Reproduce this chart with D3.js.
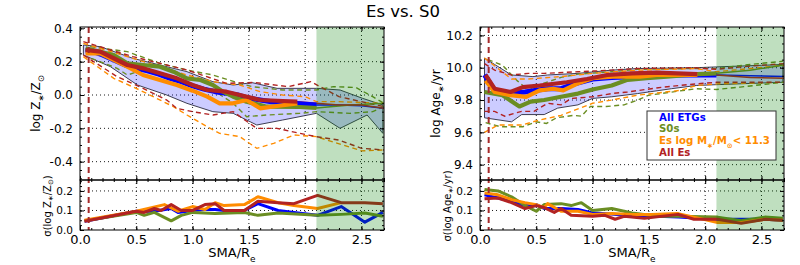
<!DOCTYPE html>
<html><head><meta charset="utf-8">
<script src="https://cdn.jsdelivr.net/npm/d3@7"></script>
<style>body{margin:0;background:#fff} svg{display:block;font-family:"DejaVu Sans",sans-serif}</style>
</head><body><svg id="c" width="800" height="265"></svg>
<script>
// ---------------- DATA ----------------
const xTickLabels = [0.0, 0.5, 1.0, 1.5, 2.0, 2.5];
const zTickLabels = [-0.4, -0.2, 0.0, 0.2, 0.4];
const ageTickLabels = [9.4, 9.6, 9.8, 10.0, 10.2];
const sigmaTickLabels = [0.0, 0.1, 0.2];
const legendLabels = ["All ETGs", "S0s", "Es log M", "All Es"];
const outerRegion = [2.1, 2.7];
const innerLimit = 0.077;

// Left: log Z*/Zsun
const zBlueX = [0.05,0.1,0.2,0.3,0.4,0.5,0.6,0.7,0.8,0.9,1.0,1.1,1.2,1.3,1.4,1.5,1.6,1.7,1.8,1.9,2.0,2.1,2.3,2.5,2.7];
const zBlue  = [0.27,0.265,0.24,0.21,0.18,0.16,0.145,0.125,0.10,0.08,0.055,0.035,0.02,0.01,0.0,-0.02,-0.03,-0.04,-0.045,-0.05,-0.055,-0.06,-0.06,-0.065,-0.08];
const zGreenX = [0.05,0.3,0.42,0.56,0.71,0.83,0.95,1.07,1.18,1.27,1.36,1.48,1.66,1.95,2.1,2.4,2.7];
const zGreen  = [0.28,0.24,0.19,0.18,0.17,0.14,0.10,0.09,0.06,0.02,-0.01,-0.04,-0.07,-0.072,-0.078,-0.06,-0.05];
const zOrangeX = [0.05,0.18,0.42,0.56,0.71,0.86,1.0,1.13,1.24,1.36,1.48,1.6,1.75,1.93];
const zOrange  = [0.25,0.25,0.17,0.12,0.09,0.06,0.026,-0.01,-0.05,-0.05,-0.03,-0.08,-0.066,-0.05];
const zRedX = [0.05,0.18,0.42,0.56,0.71,0.86,1.0,1.13,1.3,1.42,1.6,1.8,1.93,2.1,2.3,2.5,2.7];
const zRed  = [0.27,0.26,0.18,0.16,0.13,0.10,0.06,0.03,0.02,0.0,-0.03,-0.036,-0.04,-0.05,-0.06,-0.06,-0.08];
const zBandUpX = [0.03,0.18,0.47,0.71,0.95,1.18,1.36,1.53,1.75,2.1,2.31,2.51,2.69];
const zBandUp  = [0.30,0.29,0.22,0.18,0.14,0.08,0.06,0.074,0.04,0.04,0.03,-0.02,-0.06];
const zBandLoX = [0.03,0.27,0.51,0.77,0.95,1.18,1.36,1.57,1.80,2.1,2.31,2.55,2.69];
const zBandLo  = [0.24,0.17,0.06,0.0,-0.05,-0.10,-0.11,-0.18,-0.15,-0.11,-0.2,-0.12,-0.23];
const zRedHiX = [0.03,0.47,0.77,0.95,1.3,1.55,1.85,2.05,2.3,2.5,2.7];
const zRedHi  = [0.32,0.23,0.18,0.15,0.07,0.075,0.05,0.08,-0.01,-0.04,-0.07];
const zRedLoX = [0.03,0.33,0.56,0.77,0.86,1.0,1.18,1.36,1.57,1.75,1.95,2.1,2.3,2.5,2.7];
const zRedLo  = [0.24,0.11,0.04,-0.03,-0.08,-0.10,-0.12,-0.10,-0.2,-0.2,-0.23,-0.25,-0.27,-0.32,-0.33];
const zOrHiX = [0.03,0.47,0.95,1.18,1.42,1.6,1.8,2.0,2.1,2.3,2.7];
const zOrHi  = [0.31,0.22,0.12,0.08,0.06,0.02,0.0,-0.01,-0.04,-0.04,-0.05];
const zOrLoX = [0.03,0.3,0.53,0.83,0.95,1.13,1.24,1.42,1.57,1.72,1.9,2.1,2.5,2.7];
const zOrLo  = [0.23,0.10,0.03,-0.07,-0.12,-0.19,-0.23,-0.25,-0.32,-0.29,-0.24,-0.25,-0.335,-0.33];
const zGrHiX = [0.09,0.42,0.71,0.95,1.18,1.42,1.53,1.8,2.1,2.25,2.45,2.6,2.7];
const zGrHi  = [0.29,0.26,0.19,0.15,0.12,0.07,0.05,0.03,0.03,0.05,0.045,-0.01,-0.05];
const zGrLoX = [0.1,0.33,0.42,0.56,0.77,1.0,1.18,1.36,1.48,1.66,1.95,2.1,2.4,2.6,2.7];
const zGrLo  = [0.22,0.16,0.12,0.15,0.10,0.06,0.03,-0.05,-0.13,-0.12,-0.11,-0.10,-0.11,-0.10,-0.07];

// Right: log Age*/yr
const aBlueX = [0.04,0.13,0.28,0.40,0.5,0.6,0.72,0.84,1.0,1.17,1.4,1.6,1.92,2.1,2.4,2.7];
const aBlue  = [9.955,9.86,9.84,9.85,9.86,9.87,9.87,9.90,9.93,9.94,9.945,9.955,9.955,9.955,9.95,9.945];
const aGreenX = [0.04,0.2,0.35,0.45,0.57,0.72,0.87,1.0,1.17,1.31,1.48,1.66,1.93,2.1,2.4,2.69];
const aGreen  = [9.85,9.83,9.76,9.79,9.80,9.82,9.84,9.865,9.89,9.925,9.935,9.945,9.96,9.965,9.985,10.015];
const aOrangeX = [0.05,0.13,0.27,0.41,0.53,0.65,0.74,0.86,1.0,1.18,1.42,1.57,1.93];
const aOrange  = [9.92,9.85,9.83,9.82,9.86,9.87,9.86,9.90,9.935,9.945,9.945,9.955,9.955];
const aRedX = [0.05,0.13,0.27,0.38,0.53,0.77,0.95,1.13,1.35,1.57,1.93,2.1,2.4,2.7];
const aRed  = [9.955,9.87,9.85,9.88,9.89,9.91,9.93,9.955,9.965,9.97,9.96,9.955,9.94,9.935];
const aBandUpX = [0.04,0.13,0.28,0.47,0.6,0.87,1.17,1.4,1.92,2.1,2.5,2.69];
const aBandUp  = [10.06,10.02,9.955,9.945,9.955,9.965,9.985,9.995,10.0,10.005,10.015,10.02];
const aBandLoX = [0.04,0.28,0.37,0.57,0.69,0.87,1.0,1.17,1.4,1.7,1.92,2.1,2.69];
const aBandLo  = [9.69,9.665,9.71,9.71,9.75,9.77,9.81,9.82,9.84,9.87,9.89,9.895,9.91];
const aRedHiX = [0.04,0.13,0.28,0.43,0.57,0.87,1.17,1.4,1.9,2.1,2.4,2.7];
const aRedHi  = [10.025,9.985,9.955,9.965,9.965,9.975,9.985,9.995,10.0,9.99,10.01,10.025];
const aRedLoX = [0.04,0.13,0.22,0.37,0.48,0.6,0.72,0.81,1.0,1.17,1.31,1.63,1.92,2.1,2.7];
const aRedLo  = [9.73,9.73,9.70,9.73,9.73,9.78,9.77,9.81,9.82,9.84,9.85,9.88,9.90,9.91,9.91];
const aOrHiX = [0.04,0.16,0.28,0.43,0.72,1.0,1.4,1.92,2.1,2.7];
const aOrHi  = [10.06,9.995,9.93,9.93,9.945,9.965,9.985,9.995,9.975,10.015];
const aOrLoX = [0.04,0.16,0.37,0.52,0.72,1.0,1.17,1.4,1.78,1.92,2.1,2.7];
const aOrLo  = [9.60,9.645,9.645,9.675,9.705,9.78,9.80,9.83,9.86,9.89,9.90,9.91];
const aGrHiX = [0.07,0.2,0.33,0.43,0.55,0.72,0.87,1.17,1.4,1.9,2.1,2.4,2.69];
const aGrHi  = [10.05,10.015,9.92,9.86,9.90,9.94,9.96,9.975,9.99,9.995,9.995,10.02,10.04];
const aGrLoX = [0.05,0.18,0.38,0.5,0.59,0.68,0.83,0.9,0.98,1.12,1.28,1.4,1.5,1.92,2.1,2.31,2.69];
const aGrLo  = [9.66,9.635,9.635,9.665,9.655,9.69,9.705,9.70,9.76,9.76,9.77,9.80,9.83,9.87,9.865,9.88,9.91];

// Bottom left: sigma(log Z)
const sZRedX = [0.04,0.5,0.57,0.66,0.72,0.81,0.9,1.0,1.11,1.2,1.28,1.46,1.58,1.76,1.9,2.11,2.32,2.53,2.69];
const sZRed  = [0.045,0.096,0.09,0.11,0.10,0.13,0.10,0.10,0.13,0.135,0.10,0.10,0.147,0.14,0.135,0.177,0.14,0.14,0.135];
const sZOrX = [0.04,0.5,0.75,0.87,1.0,1.11,1.2,1.28,1.46,1.58,1.76,1.9,2.11,2.32];
const sZOr  = [0.05,0.096,0.13,0.096,0.12,0.105,0.14,0.125,0.13,0.17,0.14,0.125,0.11,0.14];
const sZBlueX = [0.04,0.5,0.66,0.81,0.87,1.0,1.11,1.2,1.28,1.46,1.58,1.76,1.9,2.11,2.32,2.53,2.69];
const sZBlue  = [0.045,0.096,0.096,0.11,0.09,0.10,0.105,0.105,0.10,0.10,0.135,0.10,0.09,0.075,0.12,0.04,0.09];
const sZGrX = [0.04,0.5,0.57,0.66,0.81,0.9,1.0,1.2,1.46,1.58,1.76,2.11,2.32,2.53,2.69];
const sZGr  = [0.047,0.09,0.075,0.09,0.047,0.075,0.09,0.085,0.09,0.075,0.087,0.075,0.08,0.087,0.07];

// Bottom right: sigma(log Age)
const sAGrX = [0.04,0.16,0.28,0.4,0.5,0.57,0.72,0.81,0.9,1.0,1.17,1.35,1.58,1.76,2.11,2.32,2.53,2.69];
const sAGr  = [0.207,0.2,0.17,0.125,0.096,0.13,0.135,0.125,0.14,0.10,0.11,0.087,0.07,0.07,0.066,0.047,0.066,0.06];
const sAOrX = [0.04,0.16,0.28,0.4,0.5,0.57,0.6,0.72,0.87,1.0,1.17,1.35,1.52,1.76,1.9,2.11,2.32,2.53,2.69];
const sAOr  = [0.19,0.18,0.155,0.14,0.13,0.115,0.135,0.096,0.096,0.08,0.085,0.08,0.08,0.084,0.066,0.038,0.038,0.055,0.05];
const sABlueX = [0.04,0.16,0.28,0.4,0.5,0.57,0.72,0.87,1.0,1.17,1.35,1.52,1.76,2.11,2.32,2.53,2.69];
const sABlue  = [0.18,0.164,0.147,0.125,0.13,0.11,0.11,0.105,0.087,0.082,0.07,0.072,0.066,0.055,0.055,0.055,0.05];
const sARedX = [0.04,0.16,0.28,0.4,0.5,0.57,0.66,0.72,0.81,1.0,1.11,1.2,1.28,1.46,1.76,1.9,2.11,2.32,2.53,2.69];
const sARed  = [0.16,0.164,0.14,0.11,0.125,0.115,0.09,0.11,0.075,0.07,0.075,0.055,0.07,0.06,0.08,0.055,0.055,0.034,0.055,0.05];

// ---------------- DRAWING ----------------
const COL = {blue:'#0000ff', green:'#6b8e23', orange:'#ff8c00', red:'#b22222'};
const svg = d3.select('#c');
const zip = (xs, ys) => xs.map((x, i) => [x, ys[i]]);
const fmt1 = v => v.toFixed(1);
const TOP0 = 27, MID = 180, BOT = 230;

function minorVals(dom, step) {
  const out = [];
  const s = Math.ceil(dom[0] / step - 1e-9), e = Math.floor(dom[1] / step + 1e-9);
  for (let k = s; k <= e; k++) out.push(+(k * step).toFixed(4));
  return out;
}

function drawPanel(o) {
  const g = svg.append('g');
  const x = d3.scaleLinear([0, 2.7], [o.x0, o.x1]);
  const yT = d3.scaleLinear(o.topDom, [MID, TOP0]);
  const yB = d3.scaleLinear([0, 0.256], [BOT, MID]);
  const id = 'clip' + o.x0;
  const defs = g.append('defs');
  defs.append('clipPath').attr('id', id + 't').append('rect').attr('x', o.x0).attr('y', TOP0).attr('width', o.x1 - o.x0).attr('height', MID - TOP0);
  defs.append('clipPath').attr('id', id + 'b').append('rect').attr('x', o.x0).attr('y', MID).attr('width', o.x1 - o.x0).attr('height', BOT - MID);

  // grid
  const grid = g.append('g').attr('stroke', '#000').attr('stroke-width', 0.9).attr('stroke-dasharray', '1,3');
  xTickLabels.filter(v => v > 0).forEach(v => {
    grid.append('line').attr('x1', x(v)).attr('x2', x(v)).attr('y1', TOP0).attr('y2', BOT);
  });
  o.topTicks.forEach(v => grid.append('line').attr('x1', o.x0).attr('x2', o.x1).attr('y1', yT(v)).attr('y2', yT(v)));
  sigmaTickLabels.filter(v => v > 0).forEach(v => grid.append('line').attr('x1', o.x0).attr('x2', o.x1).attr('y1', yB(v)).attr('y2', yB(v)));

  const top = g.append('g').attr('clip-path', `url(#${id}t)`);
  const bot = g.append('g').attr('clip-path', `url(#${id}b)`);
  const lineT = d3.line().x(d => x(d[0])).y(d => yT(d[1]));
  const lineB = d3.line().x(d => x(d[0])).y(d => yB(d[1]));

  // band
  const bandPts = o.bandUp.concat(o.bandLo.slice().reverse());
  top.append('path').attr('d', lineT(bandPts) + 'Z').attr('fill', 'rgba(0,0,255,0.2)').attr('stroke', '#2a2a40').attr('stroke-width', 0.9);

  // dashed percentiles
  o.dashed.forEach(d => {
    top.append('path').attr('d', lineT(d.pts)).attr('fill', 'none').attr('stroke', COL[d.c])
      .attr('stroke-width', 1.4).attr('stroke-dasharray', '5,3.5');
  });
  // thin means (full extent)
  o.means.forEach(m => {
    top.append('path').attr('d', lineT(m.pts)).attr('fill', 'none').attr('stroke', COL[m.c]).attr('stroke-width', 1.5);
  });
  // thick means
  o.means.forEach(m => {
    top.append('path').attr('d', lineT(m.pts.filter(p => p[0] <= m.end + 1e-6))).attr('fill', 'none')
      .attr('stroke', COL[m.c]).attr('stroke-width', m.c === 'blue' ? 5 : 4.2).attr('stroke-linejoin', 'round');
  });
  // sigma lines
  o.sig.forEach(s => {
    bot.append('path').attr('d', lineB(s.pts)).attr('fill', 'none').attr('stroke', COL[s.c]).attr('stroke-width', 3).attr('stroke-linejoin', 'round');
  });

  // outer region shading
  [[TOP0, MID], [MID, BOT]].forEach(([a, b]) => {
    g.append('rect').attr('x', x(outerRegion[0])).attr('y', a).attr('width', x(outerRegion[1]) - x(outerRegion[0])).attr('height', b - a)
      .attr('fill', 'green').attr('fill-opacity', 0.25);
  });
  // inner limit
  g.append('line').attr('x1', x(innerLimit)).attr('x2', x(innerLimit)).attr('y1', TOP0).attr('y2', BOT)
    .attr('stroke', '#a52a2a').attr('stroke-width', 2).attr('stroke-dasharray', '6,4');

  // axes
  const xMinor = minorVals([0, 2.7], 0.1);
  const addAxis = (axis, tx, ty, labels, fs) => {
    const a = g.append('g').attr('transform', `translate(${tx},${ty})`).call(axis);
    a.select('.domain').remove();
    a.selectAll('line').attr('stroke', '#000');
    a.selectAll('text').attr('font-size', fs).attr('fill', '#000').attr('font-family', '"DejaVu Sans",sans-serif');
    return a;
  };
  const none = () => '';
  // top panel
  addAxis(d3.axisLeft(yT).tickValues(o.topTicks).tickSize(-4).tickPadding(7).tickFormat(fmt1), o.x0, 0, true, 12);
  addAxis(d3.axisLeft(yT).tickValues(minorVals(o.topDom, 0.05)).tickSize(-2).tickFormat(none), o.x0, 0);
  addAxis(d3.axisRight(yT).tickValues(o.topTicks).tickSize(-4).tickFormat(none), o.x1, 0);
  addAxis(d3.axisRight(yT).tickValues(minorVals(o.topDom, 0.05)).tickSize(-2).tickFormat(none), o.x1, 0);
  addAxis(d3.axisTop(x).tickValues(xTickLabels).tickSize(-4).tickFormat(none), 0, TOP0);
  addAxis(d3.axisTop(x).tickValues(xMinor).tickSize(-2).tickFormat(none), 0, TOP0);
  addAxis(d3.axisBottom(x).tickValues(xTickLabels).tickSize(-4).tickFormat(none), 0, MID);
  addAxis(d3.axisBottom(x).tickValues(xMinor).tickSize(-2).tickFormat(none), 0, MID);
  // bottom panel
  addAxis(d3.axisLeft(yB).tickValues(sigmaTickLabels).tickSize(-4).tickPadding(7).tickFormat(fmt1), o.x0, 0, true, 10.5);
  addAxis(d3.axisLeft(yB).tickValues(minorVals([0, 0.256], 0.025)).tickSize(-2).tickFormat(none), o.x0, 0);
  addAxis(d3.axisRight(yB).tickValues(sigmaTickLabels).tickSize(-4).tickFormat(none), o.x1, 0);
  addAxis(d3.axisRight(yB).tickValues(minorVals([0, 0.256], 0.025)).tickSize(-2).tickFormat(none), o.x1, 0);
  addAxis(d3.axisTop(x).tickValues(xTickLabels).tickSize(-4).tickFormat(none), 0, MID);
  addAxis(d3.axisTop(x).tickValues(xMinor).tickSize(-2).tickFormat(none), 0, MID);
  addAxis(d3.axisBottom(x).tickValues(xTickLabels).tickSize(-4).tickPadding(5).tickFormat(fmt1), 0, BOT, true, 13);
  addAxis(d3.axisBottom(x).tickValues(xMinor).tickSize(-2).tickFormat(none), 0, BOT);

  // frames
  g.append('rect').attr('x', o.x0).attr('y', TOP0).attr('width', o.x1 - o.x0).attr('height', MID - TOP0).attr('fill', 'none').attr('stroke', '#000').attr('stroke-width', 1);
  g.append('rect').attr('x', o.x0).attr('y', MID).attr('width', o.x1 - o.x0).attr('height', BOT - MID).attr('fill', 'none').attr('stroke', '#000').attr('stroke-width', 1);

  // axis titles
  const lab = (txt, cx, cy, fs, parts) => {
    const t = g.append('text').attr('transform', `translate(${cx},${cy}) rotate(-90)`).attr('text-anchor', 'middle')
      .attr('dominant-baseline', 'central').attr('font-size', fs);
    parts.forEach(p => {
      const s = t.append('tspan').text(p[0]);
      if (p[1]) s.attr('font-size', fs * 0.7).attr('baseline-shift', 'sub');
    });
  };
  lab('', o.x0 - 44, (TOP0 + MID) / 2, 12, o.topLabel);
  lab('', o.x0 - 33, (MID + BOT) / 2 + 1, 10, o.botLabel);
  const xl = g.append('text').attr('x', (o.x0 + o.x1) / 2).attr('y', 257).attr('text-anchor', 'middle').attr('font-size', 13);
  xl.append('tspan').text('SMA/R');
  xl.append('tspan').text('e').attr('font-size', 9).attr('baseline-shift', 'sub');
}

drawPanel({
  x0: 80, x1: 384, topDom: [-0.51, 0.408], topTicks: zTickLabels,
  topLabel: [['log Z'], ['∗', 1], ['/Z'], ['⊙', 1]],
  botLabel: [['σ(log Z'], ['∗', 1], ['/Z'], ['⊙', 1], [')']],
  bandUp: zip(zBandUpX, zBandUp), bandLo: zip(zBandLoX, zBandLo),
  dashed: [
    {c: 'green', pts: zip(zGrHiX, zGrHi)}, {c: 'green', pts: zip(zGrLoX, zGrLo)},
    {c: 'orange', pts: zip(zOrHiX, zOrHi)}, {c: 'orange', pts: zip(zOrLoX, zOrLo)},
    {c: 'red', pts: zip(zRedHiX, zRedHi)}, {c: 'red', pts: zip(zRedLoX, zRedLo)}],
  means: [
    {c: 'blue', end: 2.1, pts: zip(zBlueX, zBlue)}, {c: 'green', end: 2.1, pts: zip(zGreenX, zGreen)},
    {c: 'orange', end: 1.93, pts: zip(zOrangeX, zOrange)}, {c: 'red', end: 1.93, pts: zip(zRedX, zRed)}],
  sig: [
    {c: 'blue', pts: zip(sZBlueX, sZBlue)}, {c: 'green', pts: zip(sZGrX, sZGr)},
    {c: 'orange', pts: zip(sZOrX, sZOr)}, {c: 'red', pts: zip(sZRedX, sZRed)}]
});

drawPanel({
  x0: 480, x1: 784, topDom: [9.305, 10.252], topTicks: ageTickLabels,
  topLabel: [['log Age'], ['∗', 1], ['/yr']],
  botLabel: [['σ(log Age'], ['∗', 1], ['/yr)']],
  bandUp: zip(aBandUpX, aBandUp), bandLo: zip(aBandLoX, aBandLo),
  dashed: [
    {c: 'green', pts: zip(aGrHiX, aGrHi)}, {c: 'green', pts: zip(aGrLoX, aGrLo)},
    {c: 'orange', pts: zip(aOrHiX, aOrHi)}, {c: 'orange', pts: zip(aOrLoX, aOrLo)},
    {c: 'red', pts: zip(aRedHiX, aRedHi)}, {c: 'red', pts: zip(aRedLoX, aRedLo)}],
  means: [
    {c: 'blue', end: 2.1, pts: zip(aBlueX, aBlue)}, {c: 'green', end: 2.1, pts: zip(aGreenX, aGreen)},
    {c: 'orange', end: 1.93, pts: zip(aOrangeX, aOrange)}, {c: 'red', end: 1.93, pts: zip(aRedX, aRed)}],
  sig: [
    {c: 'blue', pts: zip(sABlueX, sABlue)}, {c: 'green', pts: zip(sAGrX, sAGr)},
    {c: 'orange', pts: zip(sAOrX, sAOr)}, {c: 'red', pts: zip(sARedX, sARed)}]
});

// title
svg.append('text').attr('x', 403).attr('y', 17).attr('text-anchor', 'middle').attr('font-size', 16.5).text('Es vs. S0');

// legend
const lg = svg.append('g');
lg.append('rect').attr('x', 647).attr('y', 111).attr('width', 129).attr('height', 49).attr('fill', '#fff').attr('stroke', '#333').attr('stroke-width', 1);
const legCols = ['blue', 'green', 'orange', 'red'];
const legY = [121, 132, 144, 156];
legendLabels.forEach((t, i) => {
  const tx = lg.append('text').attr('x', 659).attr('y', legY[i]).attr('font-size', 10.2).attr('font-weight', 'bold').attr('fill', COL[legCols[i]]);
  if (i === 2) {
    tx.append('tspan').text('Es log M');
    tx.append('tspan').text('∗').attr('font-size', 7).attr('baseline-shift', 'sub');
    tx.append('tspan').text('/M');
    tx.append('tspan').text('⊙').attr('font-size', 7).attr('baseline-shift', 'sub');
    tx.append('tspan').text('< 11.3');
  } else tx.text(t);
});
</script></body></html>
